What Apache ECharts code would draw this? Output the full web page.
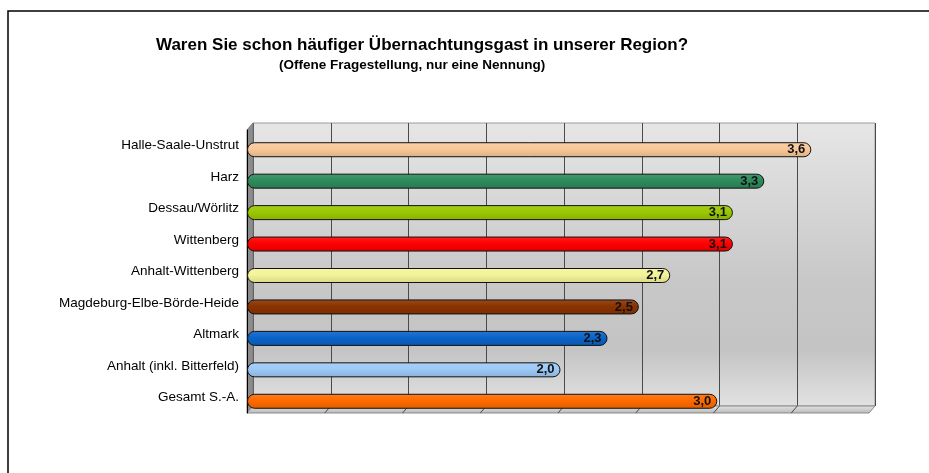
<!DOCTYPE html>
<html lang="de">
<head>
  <meta charset="utf-8"/>
  <title>Übernachtungsgast</title>
  <script src="https://cdn.jsdelivr.net/npm/echarts@6/dist/echarts.min.js"></script>
  <style>
    html, body { margin: 0; padding: 0; background: #fff; }
    #chart { width: 929px; height: 473px; }
  </style>
</head>
<body>
<div id="chart"></div>
<script>
  // data, top to bottom
  var regions = ['Halle-Saale-Unstrut', 'Harz', 'Dessau/Wörlitz', 'Wittenberg', 'Anhalt-Wittenberg',
    'Magdeburg-Elbe-Börde-Heide', 'Altmark', 'Anhalt (inkl. Bitterfeld)', 'Gesamt S.-A.'];
  var values = [3.6, 3.3, 3.1, 3.1, 2.7, 2.5, 2.3, 2.0, 3.0];
  var barColors = ['#f9c898', '#2e8b5c', '#99c800', '#ff0000', '#f4f49a', '#8b3300', '#0a64c8', '#9ccaf6', '#ff6a00'];
  var axisMax = 4;
  var axisStep = 0.5;

  function shade(hex, f) {
    var n = parseInt(hex.slice(1), 16);
    var r = (n >> 16) & 255, g = (n >> 8) & 255, b = n & 255;
    var m = function (c) { return Math.max(0, Math.min(255, Math.round(f > 0 ? c + (255 - c) * f : c * (1 + f)))); };
    return 'rgb(' + m(r) + ',' + m(g) + ',' + m(b) + ')';
  }

  var barData = values.map(function (v, i) {
    var c = barColors[i];
    return {
      value: v,
      itemStyle: {
        color: {
          type: 'linear', x: 0, y: 0, x2: 0, y2: 1,
          colorStops: [
            {offset: 0, color: shade(c, 0.12)},
            {offset: 0.45, color: c},
            {offset: 1, color: shade(c, -0.12)}
          ]
        }
      }
    };
  });

  var myChart = echarts.init(document.getElementById('chart'));

  var option = {
    animation: false,
    backgroundColor: '#fff',
    textStyle: {fontFamily: 'Liberation Sans, Arial, sans-serif'},
    title: [{
      text: 'Waren Sie schon häufiger Übernachtungsgast in unserer Region?',
      left: 151, top: 32,
      textStyle: {fontSize: 17, fontWeight: 'bold', color: '#000'}
    }, {
      text: '(Offene Fragestellung, nur eine Nennung)',
      left: 274, top: 53,
      textStyle: {fontSize: 13.5, fontWeight: 'bold', color: '#000'}
    }],
    grid: [
      // back wall
      {left: 253, top: 123, width: 622, height: 283, show: true, borderColor: '#9a9a9a', borderWidth: 1,
        backgroundColor: {
          type: 'linear', x: 0, y: 0, x2: 0, y2: 1,
          colorStops: [
            {offset: 0, color: '#e6e6e6'},
            {offset: 0.55, color: '#c8c8c8'},
            {offset: 0.8, color: '#c4c4c4'},
            {offset: 1, color: '#e2e2e2'}
          ]
        }},
      // front axis
      {left: 247, top: 130, width: 622, height: 283},
      // bars
      {left: 247, top: 134, width: 627, height: 283}
    ],
    xAxis: [
      {gridIndex: 0, type: 'value', min: 0, max: axisMax, interval: axisStep,
        axisLine: {show: false}, axisTick: {show: false}, axisLabel: {show: false},
        splitLine: {lineStyle: {color: '#4a4a4a', width: 1}}},
      {gridIndex: 1, type: 'value', min: 0, max: axisMax, show: false},
      {gridIndex: 2, type: 'value', min: 0, max: axisMax, show: false}
    ],
    yAxis: [
      {gridIndex: 0, type: 'category', data: regions, inverse: true, show: false},
      {gridIndex: 1, type: 'category', data: regions, inverse: true,
        axisLine: {lineStyle: {color: '#000', width: 1}},
        axisTick: {length: 5, lineStyle: {color: '#000'}},
        axisLabel: {color: '#000', fontSize: 13.5, margin: 8}},
      {gridIndex: 2, type: 'category', data: regions, inverse: true, show: false}
    ],
    series: [{
      type: 'bar',
      xAxisIndex: 2, yAxisIndex: 2,
      data: barData,
      barWidth: 15,
      itemStyle: {borderColor: '#111', borderWidth: 1, borderRadius: 7},
      label: {
        show: true, position: 'insideRight', distance: 6,
        fontSize: 13, fontWeight: 'bold', color: '#111',
        formatter: function (p) { return p.value.toFixed(1).replace('.', ','); }
      }
    }]
  };
  myChart.setOption(option);

  // 3D side wall, floor and outer frame
  var wallL = 253, wallR = 875, wallT = 123, wallB = 406, dx = -6, dy = 7;
  var floorTicks = [];
  for (var v = axisStep; v < axisMax; v += axisStep) {
    var x = myChart.convertToPixel({xAxisIndex: 0}, v);
    floorTicks.push({type: 'line', shape: {x1: x, y1: wallB, x2: x + dx, y2: wallB + dy},
      style: {stroke: '#4a4a4a', lineWidth: 1}});
  }
  myChart.setOption({
    graphic: [
      {type: 'polygon', shape: {points: [[wallL, wallT], [wallL, wallB], [wallL + dx, wallB + dy], [wallL + dx, wallT + dy]]},
        style: {fill: '#8c8c8c', stroke: '#7a7a7a', lineWidth: 1}},
      {type: 'polygon', shape: {points: [[wallL, wallB], [wallR, wallB], [wallR + dx, wallB + dy], [wallL + dx, wallB + dy]]},
        style: {fill: {type: 'linear', x: 0, y: 0, x2: 0, y2: 1, colorStops: [{offset: 0, color: '#e4e4e4'}, {offset: 1, color: '#b8b8b8'}]},
          stroke: '#8a8a8a', lineWidth: 1}},
      {type: 'group', children: floorTicks},
      {type: 'rect', shape: {x: 8, y: 11, width: 1200, height: 1000},
        style: {fill: 'none', stroke: '#000', lineWidth: 1.5}, z: 100}
    ]
  });
</script>
</body>
</html>
